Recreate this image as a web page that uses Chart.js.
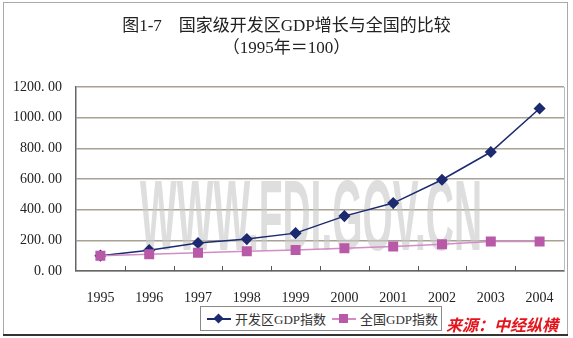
<!DOCTYPE html>
<html>
<head>
<meta charset="utf-8">
<script src="https://cdn.jsdelivr.net/npm/chart.js@4"></script>
<style>
  html, body { margin: 0; padding: 0; background: #fff; }
  #wrap { position: relative; width: 573px; height: 338px; overflow: hidden; }
  #wrap canvas { position: absolute; left: 0; top: 0; }
  .title { position: absolute; left: 0; width: 573px; text-align: center; color: #222;
           font-family: "Liberation Serif", "Noto Sans CJK SC", serif; font-size: 17px; line-height: 19px; }
  #legend { position: absolute; left: 200px; top: 306px; width: 240px; height: 23px;
            border: 1px solid #8a8a8a; background: #fff; display: flex; align-items: center; white-space: nowrap;
            font-family: "Liberation Serif", "Noto Sans CJK SC", serif; font-size: 13px; color: #333; }
  .item { display: flex; align-items: center; margin-left: 6px; }
  .sample { position: relative; width: 24px; height: 10px; margin-right: 4px; flex: none; }
  .sample .ln { position: absolute; left: 0; right: 0; top: 4.5px; height: 1.5px; }
  .sample .mk { position: absolute; left: 7px; top: 0; width: 9px; height: 9px; }
  #source { position: absolute; left: 446px; top: 314px; color: #e3141c; font-weight: bold;
            font-style: italic; font-family: "Noto Sans CJK SC", sans-serif; font-size: 16px; line-height: 20px; }
</style>
</head>
<body>
<div id="wrap">
  <canvas id="chart" width="573" height="338"></canvas>
  <div class="title" style="top:16px">图1-7　国家级开发区GDP增长与全国的比较</div>
  <div class="title" style="top:38px">（1995年＝100）</div>
  <div id="legend"></div>
  <div id="source">来源：中经纵横</div>
</div>
<script>
const years = ["1995", "1996", "1997", "1998", "1999", "2000", "2001", "2002", "2003", "2004"]
const zoneIndex = [100, 136, 183, 208, 247, 358, 443, 595, 776, 1060]
const nationalIndex = [100, 110, 119, 129, 137, 149, 160, 175, 193, 193]
const yTicks = [0, 200, 400, 600, 800, 1000, 1200]

// order: the national series is painted over the zone series
const series = [
  { name: "开发区GDP指数", data: zoneIndex, line: "#1c2a70", point: "#1c2a70", style: "rectRot", radius: 5, order: 1 },
  { name: "全国GDP指数", data: nationalIndex, line: "#d38cc6", point: "#b85aa8", style: "rect", radius: 6, order: 0 },
]

// frame, plot border, short inner ticks and the watermark
const decor = {
  id: "decor",
  beforeDatasetsDraw(chart) {
    const { ctx } = chart
    ctx.save()
    ctx.font = "bold 100px 'Liberation Sans', sans-serif"
    ctx.fillStyle = "rgba(200,200,200,0.6)"
    ctx.textAlign = "center"
    ctx.textBaseline = "middle"
    const text = "WWW.FDI.GOV.CN"
    const w = ctx.measureText(text).width
    ctx.translate(311, 222)
    ctx.scale(342 / w, 1)
    ctx.fillText(text, 0, 0)
    ctx.restore()
  },
  afterDraw(chart) {
    const { ctx, chartArea: a } = chart
    ctx.save()
    ctx.strokeStyle = "#b8bcc4"
    ctx.lineWidth = 1
    ctx.beginPath()
    ctx.moveTo(a.right + 0.5, a.top)
    ctx.lineTo(a.right + 0.5, a.bottom)
    ctx.stroke()

    ctx.strokeStyle = "#555"
    const step = (a.right - a.left) / years.length
    ctx.beginPath()
    for (let i = 1; i < years.length; i++) {
      const x = Math.round(a.left + i * step) + 0.5
      ctx.moveTo(x, a.bottom)
      ctx.lineTo(x, a.bottom - 5)
    }
    ctx.stroke()

    ctx.strokeStyle = "#a9a9a9"
    ctx.strokeRect(3.5, 2.5, 564, 332)
    ctx.strokeStyle = "#333"
    ctx.lineWidth = 2
    ctx.beginPath()
    ctx.moveTo(3, 335)
    ctx.lineTo(568, 335)
    ctx.stroke()
    ctx.restore()
  },
}

new Chart(document.getElementById("chart"), {
  type: "line",
  data: {
    labels: years,
    datasets: series.map(s => ({
      label: s.name,
      data: s.data,
      order: s.order,
      borderColor: s.line,
      borderWidth: 1.5,
      backgroundColor: s.point,
      pointBackgroundColor: s.point,
      pointBorderColor: s.point,
      pointStyle: s.style,
      pointRadius: s.radius,
      tension: 0,
    })),
  },
  options: {
    responsive: false,
    animation: false,
    devicePixelRatio: 1,
    layout: { padding: { left: 6, right: 9, top: 87, bottom: 27 } },
    plugins: { legend: { display: false }, tooltip: { enabled: false } },
    scales: {
      x: {
        offset: true,
        grid: { display: false },
        border: { color: "#666", width: 1.5 },
        ticks: { color: "#222", padding: 11, font: { family: "'Liberation Serif', serif", size: 14 } },
        afterFit(scale) { scale.height = 40 },
      },
      y: {
        min: 0,
        max: 1200,
        afterBuildTicks(scale) { scale.ticks = yTicks.map(v => ({ value: v })) },
        grid: { color: "#a7a293", lineWidth: 1.5, drawTicks: false },
        border: { color: "#666", width: 1.5 },
        ticks: {
          color: "#222",
          padding: 14,
          font: { family: "'Liberation Serif', serif", size: 14 },
          callback: v => v.toFixed(2).replace(".", ". "),
        },
        afterFit(scale) { scale.width = 70 },
      },
    },
  },
  plugins: [decor],
})

const legend = document.getElementById("legend")
series.forEach(s => {
  const item = document.createElement("div")
  item.className = "item"
  const rot = s.style === "rectRot" ? "transform:rotate(45deg) scale(0.8);" : ""
  item.innerHTML = `<span class="sample"><span class="ln" style="background:${s.line}"></span>` +
    `<span class="mk" style="background:${s.point};${rot}"></span></span><span>${s.name}</span>`
  legend.appendChild(item)
})
</script>
</body>
</html>
